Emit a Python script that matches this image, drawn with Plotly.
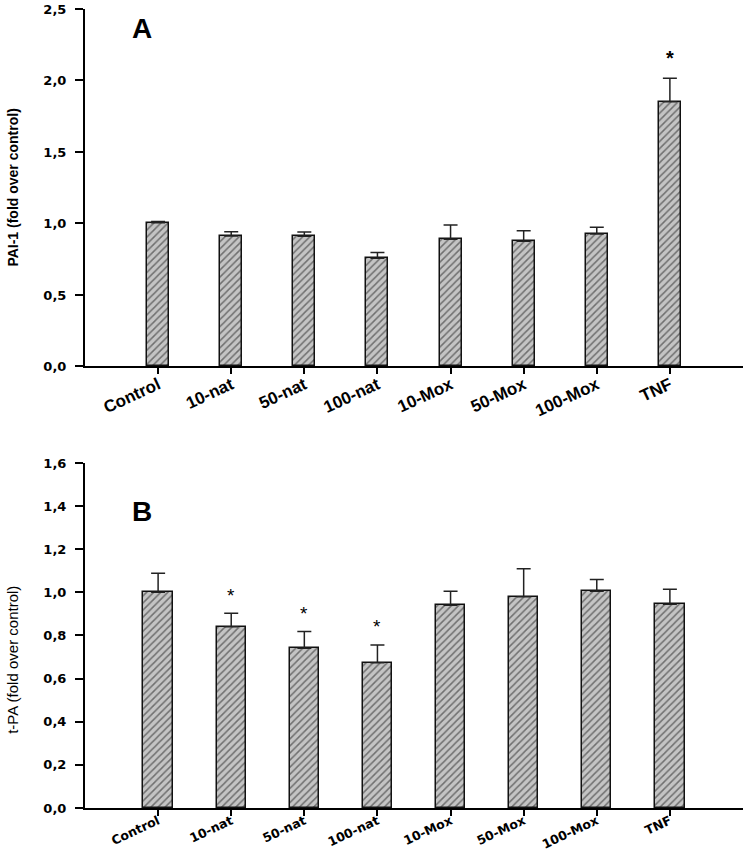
import plotly.graph_objects as go

categories = ["Control", "10-nat", "50-nat", "100-nat", "10-Mox", "50-Mox", "100-Mox", "TNF"]

pai1_mean = [1.005, 0.913, 0.910, 0.757, 0.890, 0.876, 0.927, 1.852]
pai1_err = [0.008, 0.030, 0.030, 0.040, 0.100, 0.074, 0.046, 0.163]
pai1_star = [False, False, False, False, False, False, False, True]

tpa_mean = [1.000, 0.841, 0.741, 0.674, 0.940, 0.980, 1.005, 0.945]
tpa_err = [0.089, 0.062, 0.077, 0.082, 0.065, 0.130, 0.055, 0.070]
tpa_star = [False, True, True, True, False, False, False, False]

yticks_a = [0.0, 0.5, 1.0, 1.5, 2.0, 2.5]
yticks_b = [0.0, 0.2, 0.4, 0.6, 0.8, 1.0, 1.2, 1.4, 1.6]

bar_fill = "#c4c4c4"
hatch = dict(shape="/", fgcolor="#1a1a1a", bgcolor=bar_fill, size=5, solidity=0.3)

fig = go.Figure()

fig.add_trace(go.Bar(
    x=categories, y=pai1_mean, width=0.30,
    marker=dict(color=bar_fill, pattern=hatch, line=dict(color="#111", width=1.5)),
    error_y=dict(type="data", array=pai1_err, arrayminus=[0] * len(pai1_err), symmetric=False,
                 color="#222", thickness=1.5, width=7),
    xaxis="x", yaxis="y", showlegend=False,
))
fig.add_trace(go.Bar(
    x=categories, y=tpa_mean, width=0.40,
    marker=dict(color=bar_fill, pattern=hatch, line=dict(color="#111", width=1.5)),
    error_y=dict(type="data", array=tpa_err, arrayminus=[0] * len(tpa_err), symmetric=False,
                 color="#222", thickness=1.5, width=7),
    xaxis="x2", yaxis="y2", showlegend=False,
))

annotations = []
for c, m, e, s in zip(categories, pai1_mean, pai1_err, pai1_star):
    if s:
        annotations.append(dict(x=c, y=m + e, xref="x", yref="y", text="<b>*</b>", showarrow=False,
                                yshift=20, font=dict(size=20, color="black", family="Liberation Sans")))
for c, m, e, s in zip(categories, tpa_mean, tpa_err, tpa_star):
    if s:
        annotations.append(dict(x=c, y=m + e, xref="x2", yref="y2", text="*", showarrow=False,
                                yshift=18, font=dict(size=19, color="black", family="Liberation Sans")))

annotations.append(dict(x=0, y=2.5, xref="x", yref="y", text="<b>A</b>", showarrow=False,
                        xshift=-16, yshift=-19, font=dict(size=28, color="black", family="Liberation Sans")))
annotations.append(dict(x=0, y=1.6, xref="x2", yref="y2", text="<b>B</b>", showarrow=False,
                        xshift=-16, yshift=-49, font=dict(size=28, color="black", family="Liberation Sans")))

annotations.append(dict(x=-0.11, y=0.776, xref="paper", yref="paper", text="<b>PAI-1 (fold over control)</b>",
                        textangle=-90, showarrow=False, xanchor="center", yanchor="middle",
                        font=dict(size=14, color="black", family="Liberation Sans")))
annotations.append(dict(x=-0.11, y=0.185, xref="paper", yref="paper", text="t-PA (fold over control)",
                        textangle=-90, showarrow=False, xanchor="center", yanchor="middle",
                        font=dict(size=15, color="black", family="Liberation Sans")))

common_x = dict(type="category", categoryorder="array", categoryarray=categories, range=[-1, 8],
                showline=True, linecolor="black", linewidth=2, ticks="outside", ticklen=6,
                tickwidth=2, tickcolor="black", tickangle=-25, showgrid=False, zeroline=False)
common_y = dict(showline=True, linecolor="black", linewidth=2, ticks="outside", ticklen=8,
                tickwidth=2, tickcolor="black", showgrid=False, zeroline=False, tickformat=".1f",
                ticklabelstandoff=6)

fig.update_layout(
    width=749, height=852,
    margin=dict(l=85, r=6, t=9, b=44, autoexpand=False),
    paper_bgcolor="white", plot_bgcolor="white",
    separators=", ",
    bargap=0,
    xaxis=dict(common_x, domain=[0, 1], anchor="y", ticklabelstandoff=-6,
               tickfont=dict(size=17, family="Liberation Sans", color="black", weight="bold")),
    yaxis=dict(common_y, domain=[0.5526, 1], range=[0, 2.5], tickvals=yticks_a, anchor="x",
               tickfont=dict(size=13, family="DejaVu Sans", color="black", weight="bold")),
    xaxis2=dict(common_x, domain=[0, 1], anchor="y2", ticklabelstandoff=-7,
                tickfont=dict(size=12.5, family="DejaVu Sans", color="black", weight="bold")),
    yaxis2=dict(common_y, domain=[0, 0.4318], range=[0, 1.6], tickvals=yticks_b, anchor="x2",
                tickfont=dict(size=13, family="DejaVu Sans", color="black", weight="bold")),
    annotations=annotations,
)

fig.write_html("out.html", config={"displayModeBar": False},
               post_script="document.body.style.margin='0px';")
